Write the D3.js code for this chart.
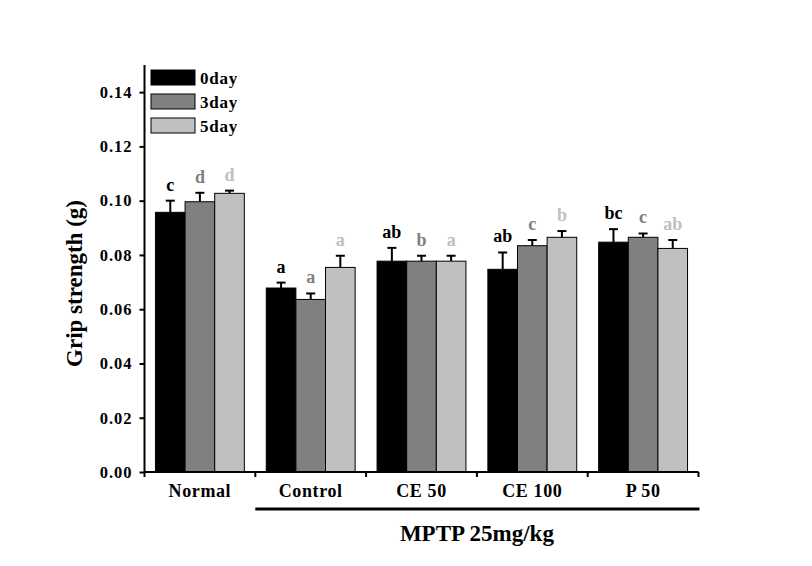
<!DOCTYPE html>
<html><head><meta charset="utf-8">
<script src="https://cdn.jsdelivr.net/npm/d3@7"></script>
<style>body{margin:0;background:#fff}svg{display:block}text{font-family:"Liberation Serif","Times New Roman",serif;font-weight:bold}</style>
</head><body><svg id="c" width="812" height="566"></svg>
<script>
const categories = ["Normal", "Control", "CE 50", "CE 100", "P 50"];
const seriesNames = ["0day", "3day", "5day"];
const day0 = [0.0957, 0.0678, 0.0777, 0.0747, 0.0847];
const day3 = [0.0996, 0.0636, 0.0777, 0.0834, 0.0865];
const day5 = [0.1027, 0.0754, 0.0777, 0.0865, 0.0824];
const err0 = [0.0043, 0.0020, 0.0049, 0.0062, 0.0048];
const err3 = [0.0033, 0.0022, 0.0020, 0.0021, 0.0014];
const err5 = [0.0010, 0.0043, 0.0020, 0.0023, 0.0031];
const letters0 = ["c", "a", "ab", "ab", "bc"];
const letters3 = ["d", "a", "b", "c", "c"];
const letters5 = ["d", "a", "a", "b", "ab"];
const yTicks = [0.00, 0.02, 0.04, 0.06, 0.08, 0.10, 0.12, 0.14];
const colors = ["#000000", "#808080", "#c0c0c0"];

const values = [day0, day3, day5], errs = [err0, err3, err5], letters = [letters0, letters3, letters5];
const svg = d3.select("#c");
const L = 144.5, R = 698.5, T = 65, B = 472;
const x = d3.scaleBand().domain(categories).range([L, R]).paddingInner(0).paddingOuter(0);
const xs = d3.scaleBand().domain(seriesNames).range([0, x.bandwidth()]).paddingOuter(0.37).paddingInner(0);
const y = d3.scaleLinear().domain([0, 0.15]).range([B, T]);

// bars
seriesNames.forEach((s, si) => {
  const g = svg.append("g");
  categories.forEach((c, ci) => {
    const v = values[si][ci], e = errs[si][ci];
    const bx = x(c) + xs(s), bw = xs.bandwidth(), cx = bx + bw / 2;
    g.append("line").attr("x1", cx).attr("x2", cx).attr("y1", y(v)).attr("y2", y(v + e)).attr("stroke", "#000").attr("stroke-width", 2);
    g.append("line").attr("x1", cx - 4.5).attr("x2", cx + 4.5).attr("y1", y(v + e)).attr("y2", y(v + e)).attr("stroke", "#000").attr("stroke-width", 2);
    g.append("rect").attr("x", bx).attr("y", y(v)).attr("width", bw).attr("height", B - y(v))
      .attr("fill", colors[si]).attr("stroke", "#000").attr("stroke-width", 1);
    g.append("text").attr("x", cx).attr("y", y(v + e) - 10).attr("text-anchor", "middle")
      .attr("font-size", 18).attr("fill", colors[si]).text(letters[si][ci]);
  });
});

// y axis
const ya = svg.append("g").attr("transform", `translate(${L},0)`)
  .call(d3.axisLeft(y).tickValues(yTicks).tickFormat(d3.format(".2f")).tickSizeOuter(0).tickSize(5));
ya.select(".domain").attr("stroke-width", 2).attr("d", `M0,${B}V${T}`);
ya.selectAll(".tick line").attr("stroke-width", 2);
ya.selectAll(".tick text").attr("font-size", 16.5).attr("x", -12).attr("font-family", "Liberation Serif").attr("font-weight", "bold").attr("fill", "#000").style("letter-spacing", "1px");

// x axis
const xa = svg.append("g").attr("transform", `translate(0,${B})`)
  .call(d3.axisBottom(x).tickSize(0).tickSizeOuter(0));
xa.select(".domain").attr("stroke-width", 2).attr("d", `M${L},0H${R}`);
xa.selectAll(".tick text").attr("font-size", 18).attr("y", 12).attr("dy", "0.71em").attr("font-family", "Liberation Serif").attr("font-weight", "bold").attr("fill", "#000").style("letter-spacing", "0.6px");
const boundaries = categories.map(c => x(c)).concat([R]);
svg.append("g").selectAll("line").data(boundaries).join("line")
  .attr("x1", d => d).attr("x2", d => d).attr("y1", B).attr("y2", B + 5)
  .attr("stroke", "#000").attr("stroke-width", 2);

// MPTP line and label
svg.append("line").attr("x1", x("Control")).attr("x2", R + 1).attr("y1", 509).attr("y2", 509).attr("stroke", "#000").attr("stroke-width", 3);
svg.append("text").attr("x", (x("Control") + R) / 2).attr("y", 541).attr("text-anchor", "middle").attr("font-size", 23).text("MPTP 25mg/kg");

// y title
svg.append("text").attr("transform", `translate(82,${(T + B) / 2 + 15}) rotate(-90)`).attr("text-anchor", "middle").attr("font-size", 23).text("Grip strength (g)");

// legend
const leg = svg.append("g").attr("transform", "translate(151,70)");
seriesNames.forEach((s, i) => {
  leg.append("rect").attr("x", 0).attr("y", i * 24).attr("width", 44).attr("height", 15).attr("fill", colors[i]).attr("stroke", "#000").attr("stroke-width", 1);
  leg.append("text").attr("x", 49).attr("y", i * 24 + 14).attr("font-size", 17).style("letter-spacing", "0.8px").text(s);
});
</script></body></html>
